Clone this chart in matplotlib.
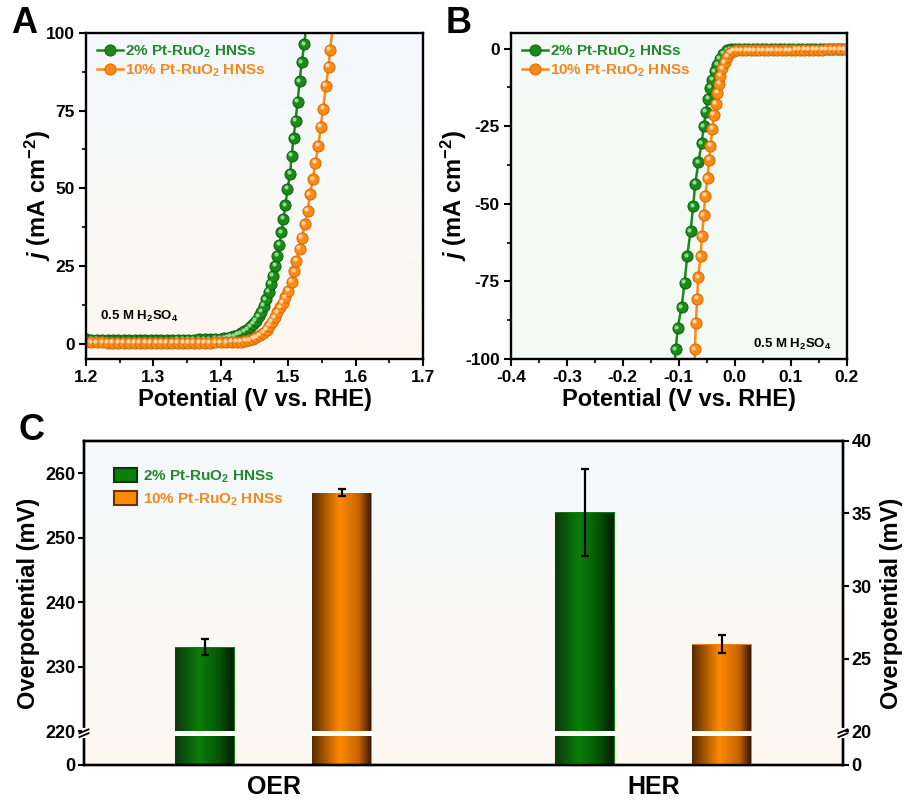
import numpy as np
import matplotlib
matplotlib.use("Agg")
import matplotlib.pyplot as plt
from matplotlib.colors import LinearSegmentedColormap
from matplotlib.transforms import offset_copy
from matplotlib.patches import Patch
from matplotlib.ticker import MultipleLocator, FormatStrFormatter

plt.rcParams['font.family'] = ['Liberation Sans', 'DejaVu Sans']
plt.rcParams['font.weight'] = 'bold'
plt.rcParams['axes.labelweight'] = 'bold'
plt.rcParams['axes.unicode_minus'] = False
plt.rcParams['mathtext.fontset'] = 'custom'
plt.rcParams['mathtext.rm'] = 'Liberation Sans:bold'
plt.rcParams['mathtext.it'] = 'Liberation Sans:italic:bold'
plt.rcParams['mathtext.bf'] = 'Liberation Sans:bold'

# ---- data -------------------------------------------------------------
labels = ['2% Pt-RuO$_2$ HNSs', '10% Pt-RuO$_2$ HNSs']

# panel A: OER polarisation curves
ga_x = [1.200, 1.208, 1.216, 1.224, 1.232, 1.240, 1.248, 1.256, 1.264, 1.272,
        1.280, 1.288, 1.296, 1.304, 1.312, 1.320, 1.328, 1.336, 1.344, 1.352,
        1.360, 1.368, 1.376, 1.384, 1.392, 1.400,
        1.405, 1.410, 1.415, 1.420, 1.425, 1.430, 1.435, 1.440,
        1.444, 1.448, 1.452, 1.456, 1.460, 1.464,
        1.467, 1.471, 1.474, 1.477, 1.481, 1.484, 1.487, 1.490, 1.493, 1.496,
        1.499, 1.503, 1.505, 1.508, 1.511, 1.514, 1.517, 1.520, 1.524, 1.527]
ga_y = [1.3, 1.2, 1.2, 1.1, 1.1, 1.1, 1.1, 1.1, 1.1, 1.1,
        1.1, 1.1, 1.1, 1.1, 1.1, 1.1, 1.1, 1.2, 1.2, 1.2,
        1.2, 1.3, 1.3, 1.4, 1.5, 1.6,
        1.7, 1.9, 2.1, 2.4, 2.8, 3.3, 3.9, 4.6,
        5.4, 6.3, 7.4, 8.7, 10.2, 12.2,
        14.3, 16.7, 19.2, 21.8, 25.1, 28.3, 31.8, 35.9, 40.1, 44.5,
        49.8, 54.7, 60.5, 66.1, 71.8, 77.9, 84.4, 90.6, 96.4, 103.0]
oa_x = [1.200, 1.208, 1.216, 1.224, 1.232, 1.240, 1.248, 1.256, 1.264, 1.272,
        1.280, 1.288, 1.296, 1.304, 1.312, 1.320, 1.328, 1.336, 1.344, 1.352,
        1.360, 1.368, 1.376, 1.384, 1.392, 1.400, 1.408, 1.416, 1.424,
        1.430, 1.436, 1.442, 1.448, 1.453, 1.458, 1.463, 1.468, 1.472, 1.476,
        1.480, 1.484, 1.488, 1.492, 1.496, 1.500, 1.505, 1.509, 1.512, 1.517,
        1.520, 1.525, 1.529, 1.532, 1.537, 1.540, 1.545, 1.548, 1.552, 1.556,
        1.560, 1.562, 1.567]
oa_y = [0.5, 0.4, 0.4, 0.4, 0.3, 0.3, 0.3, 0.3, 0.3, 0.3,
        0.3, 0.3, 0.3, 0.3, 0.3, 0.3, 0.3, 0.3, 0.3, 0.3,
        0.3, 0.3, 0.3, 0.3, 0.4, 0.4, 0.4, 0.5, 0.5,
        0.6, 0.8, 1.1, 1.5, 2.0, 2.6, 3.4, 4.5, 5.7, 7.0,
        8.4, 10.0, 11.6, 13.2, 14.9, 17.0, 19.9, 23.3, 26.7, 30.5,
        34.1, 38.4, 42.7, 48.0, 52.9, 58.2, 63.6, 69.8, 75.6, 83.0,
        89.2, 94.6, 103.0]

# panel B: HER polarisation curves
gb_x = [-0.1085, -0.1053, -0.1023, -0.0952, -0.0898, -0.0851, -0.0791, -0.0744,
        -0.0708, -0.0649, -0.0595, -0.0554, -0.0518, -0.0477, -0.0435, -0.0399,
        -0.0358, -0.0316, -0.0269, -0.0209, -0.0138, -0.0070,
        0.000, 0.008, 0.016, 0.024, 0.032, 0.040, 0.048, 0.056, 0.064, 0.072,
        0.080, 0.088, 0.096, 0.104, 0.112, 0.120, 0.128, 0.136, 0.144, 0.152,
        0.160, 0.168, 0.176, 0.184, 0.192, 0.200]
gb_y = [-103.0, -96.9, -90.1, -83.3, -75.5, -66.9, -58.8, -50.8,
        -43.6, -36.6, -30.5, -25.1, -20.3, -16.2, -12.7, -10.0,
        -7.3, -5.2, -3.3, -1.7, -0.6, -0.3,
        -0.2, -0.2, -0.2, -0.2, -0.2, -0.2, -0.2, -0.2, -0.2, -0.2,
        -0.2, -0.2, -0.2, -0.2, -0.2, -0.2, -0.2, -0.2, -0.2, -0.2,
        -0.2, -0.2, -0.2, -0.2, -0.2, -0.2]
ob_x = [-0.0722, -0.0714, -0.0696, -0.0673, -0.0655, -0.0613, -0.0589, -0.0554,
        -0.0530, -0.0488, -0.0459, -0.0435, -0.0399, -0.0375, -0.0340, -0.0310,
        -0.0280, -0.0257, -0.0221, -0.0180, -0.0138, -0.0078, -0.0020,
        0.004, 0.012, 0.020, 0.028, 0.036, 0.044, 0.052, 0.060, 0.068, 0.076,
        0.084, 0.092, 0.100, 0.108, 0.116, 0.124, 0.132, 0.140, 0.148, 0.156,
        0.164, 0.172, 0.180, 0.188, 0.196]
ob_y = [-103.5, -96.8, -88.4, -80.6, -73.6, -66.9, -60.5, -53.7,
        -47.5, -41.8, -35.9, -31.3, -25.9, -21.3, -17.8, -14.3,
        -11.3, -8.7, -6.3, -4.4, -2.7, -1.4, -0.8,
        -0.6, -0.6, -0.6, -0.6, -0.6, -0.5, -0.5, -0.5, -0.5, -0.5,
        -0.5, -0.5, -0.5, -0.4, -0.4, -0.4, -0.4, -0.4, -0.4, -0.4,
        -0.3, -0.3, -0.3, -0.3, -0.3]

# panel C: overpotentials
groups = ['OER', 'HER']
oer_vals = [233.0, 257.0]
oer_err = [1.2, 0.6]
her_vals = [35.1, 26.0]
her_err = [3.0, 0.65]

green = '#1b8a1b'
green_edge = '#0d5e0d'
green_light = '#8fdc8f'
orange = '#ff8a12'
orange_edge = '#d0680a'
orange_light = '#ffd6a6'
green_txt = '#22892a'
orange_txt = '#f5871f'

fig = plt.figure(figsize=(9.09, 8.05), dpi=100)


def gradient_bg(ax, top, bottom):
    cmap = LinearSegmentedColormap.from_list('bg', [top, bottom])
    ax.imshow(np.linspace(0, 1, 256).reshape(-1, 1), cmap=cmap, aspect='auto',
              extent=[0, 1, 0, 1], transform=ax.transAxes, zorder=0)


def style_axes(ax):
    for s in ax.spines.values():
        s.set_linewidth(1.7)
        s.set_zorder(5)
    ax.tick_params(which='major', direction='out', length=5, width=1.5,
                   labelsize=12.5, pad=3)
    ax.tick_params(which='minor', direction='out', length=3, width=1.2)


def lsv(ax, x, y, col, edge, light, lab):
    line, = ax.plot(x, y, '-o', color=col, lw=1.8, ms=8, mfc=col, mec=edge,
                    mew=0.7, label=lab, zorder=3)
    tr = offset_copy(ax.transData, fig=fig, x=-1.1, y=1.1, units='points')
    ax.plot(x, y, 'o', ms=3.0, color=light, mec='none', transform=tr, zorder=3)
    return line


# ---- panel A ------------------------------------------------------------
axA = fig.add_axes([0.0946, 0.554, 0.3707, 0.405])
gradient_bg(axA, '#f4f8fd', '#fdf8f0')
lsv(axA, ga_x, ga_y, green, green_edge, green_light, labels[0])
lsv(axA, oa_x, oa_y, orange, orange_edge, orange_light, labels[1])
axA.set_xlim(1.2, 1.7)
axA.set_ylim(-5, 100)
axA.xaxis.set_major_locator(MultipleLocator(0.1))
axA.xaxis.set_minor_locator(MultipleLocator(0.05))
axA.xaxis.set_major_formatter(FormatStrFormatter('%.1f'))
axA.yaxis.set_major_locator(MultipleLocator(25))
axA.yaxis.set_minor_locator(MultipleLocator(12.5))
style_axes(axA)
axA.set_xlabel('Potential (V vs. RHE)', fontsize=17, labelpad=2)
axA.set_ylabel(r'$j$ (mA cm$^{\mathrm{-2}}$)', fontsize=17, labelpad=-5)
axA.legend(loc='upper left', frameon=False, handlelength=1.7, handletextpad=0.15,
           borderaxespad=0.3, labelspacing=0.15, prop=dict(size=11, weight='bold'),
           labelcolor=[green_txt, orange_txt])
axA.text(0.042, 0.13, '0.5 M H$_2$SO$_4$', transform=axA.transAxes, fontsize=9.5,
         va='center', ha='left', zorder=6)

# ---- panel B ------------------------------------------------------------
axB = fig.add_axes([0.562, 0.554, 0.3696, 0.405])
gradient_bg(axB, '#f5fbf8', '#f3faf3')
lsv(axB, gb_x, gb_y, green, green_edge, green_light, labels[0])
lsv(axB, ob_x, ob_y, orange, orange_edge, orange_light, labels[1])
axB.set_xlim(-0.4, 0.2)
axB.set_ylim(-100, 5)
axB.xaxis.set_major_locator(MultipleLocator(0.1))
axB.xaxis.set_minor_locator(MultipleLocator(0.05))
axB.xaxis.set_major_formatter(FormatStrFormatter('%.1f'))
axB.yaxis.set_major_locator(MultipleLocator(25))
axB.yaxis.set_minor_locator(MultipleLocator(12.5))
style_axes(axB)
axB.set_xlabel('Potential (V vs. RHE)', fontsize=17, labelpad=2)
axB.set_ylabel(r'$j$ (mA cm$^{\mathrm{-2}}$)', fontsize=17, labelpad=-3)
axB.legend(loc='upper left', frameon=False, handlelength=1.7, handletextpad=0.15,
           borderaxespad=0.3, labelspacing=0.15, prop=dict(size=11, weight='bold'),
           labelcolor=[green_txt, orange_txt])
axB.text(0.72, 0.045, '0.5 M H$_2$SO$_4$', transform=axB.transAxes, fontsize=9.5,
         va='center', ha='left', zorder=6)

# ---- panel C ------------------------------------------------------------
KL = 5.27   # height of the compressed 0-220 segment (left axis units)
KR = 2.34   # height of the compressed 0-20 segment (right axis units)


def fwd_l(v):
    v = np.asarray(v, float)
    return np.where(v <= 220, v * KL / 220, KL + (v - 220))


def inv_l(u):
    u = np.asarray(u, float)
    return np.where(u <= KL, u * 220 / KL, 220 + (u - KL))


def fwd_r(v):
    v = np.asarray(v, float)
    return np.where(v <= 20, v * KR / 20, KR + (v - 20))


def inv_r(u):
    u = np.asarray(u, float)
    return np.where(u <= KR, u * 20 / KR, 20 + (u - KR))


axC = fig.add_axes([0.0924, 0.0497, 0.835, 0.4025])
axC2 = axC.twinx()
gradient_bg(axC, '#f5fafd', '#fdf8f1')
axC.set_yscale('function', functions=(fwd_l, inv_l))
axC2.set_yscale('function', functions=(fwd_r, inv_r))

cm_green = LinearSegmentedColormap.from_list(
    'g', [(0, '#0b3a0b'), (0.4, '#0a7f0a'), (0.75, '#055205'), (1, '#001400')])
cm_orange = LinearSegmentedColormap.from_list(
    'o', [(0, '#5c2c00'), (0.45, '#ff8a00'), (0.78, '#c56200'), (1, '#2a1000')])
bar_cmaps = [cm_green, cm_orange]

off = 0.18
bw = 0.158
gidx = np.arange(len(groups))
xs_green = gidx - off
xs_orange = gidx + off


def grad_bars(ax, xs, vals, err, brk_lo, brk_hi):
    for x, v, cm in zip(xs, vals, bar_cmaps):
        bar = ax.bar([x], [v], width=bw, color=cm(0.4), zorder=2).patches[0]
        im = ax.imshow(np.linspace(0, 1, 128).reshape(1, -1), cmap=cm,
                       aspect='auto', extent=[x - bw / 2, x + bw / 2, 0, v],
                       zorder=3, interpolation='bilinear')
        im.set_clip_path(bar)
    ax.bar(xs, brk_hi - brk_lo, bottom=brk_lo, width=bw * 1.02, color='white',
           zorder=4)
    ax.errorbar(xs, vals, yerr=err, fmt='none', ecolor='black', elinewidth=1.6,
                capsize=3, capthick=1.6, zorder=6)


# OER on the left axis, HER on the right axis
grad_bars(axC, [xs_green[0], xs_orange[0]], oer_vals, oer_err, 187, 219.5)
grad_bars(axC2, [xs_green[1], xs_orange[1]], her_vals, her_err, 17.0, 19.95)

axC.set_xlim(-0.5, 1.5)
axC.set_ylim(0, 265)
axC2.set_ylim(0, 40)
axC.set_yticks([0, 220, 230, 240, 250, 260])
axC2.set_yticks([0, 20, 25, 30, 35, 40])
axC.set_xticks(gidx)
axC.set_xticklabels(groups, fontsize=18)
axC.tick_params(axis='x', length=0, pad=7)
for ax in (axC, axC2):
    for s in ax.spines.values():
        s.set_linewidth(1.7)
        s.set_zorder(5)
    ax.tick_params(axis='y', direction='out', length=4, width=1.5, labelsize=13,
                   pad=2)
axC.set_ylabel('Overpotential (mV)', fontsize=17, labelpad=4)
axC2.set_ylabel('Overpotential (mV)', fontsize=17, labelpad=6)

# axis-break marks on both vertical spines
yb = 0.101
for xb in (0, 1):
    axC2.plot([xb, xb], [yb - 0.012, yb + 0.006], color='white', lw=3,
              transform=axC2.transAxes, clip_on=False, zorder=7)
    for dy in (-0.009, 0.003):
        axC2.plot([xb - 0.006, xb + 0.006], [yb + dy - 0.006, yb + dy + 0.006],
                  color='black', lw=1.3, transform=axC2.transAxes,
                  clip_on=False, zorder=8)

handles = [Patch(facecolor=cm_green(0.4), edgecolor='#063806', lw=1.5),
           Patch(facecolor=cm_orange(0.45), edgecolor='#6a3300', lw=1.5)]
axC2.legend(handles, labels, loc='upper left', bbox_to_anchor=(0.022, 0.96),
            frameon=False, handlelength=1.5, handleheight=1.1, handletextpad=0.35,
            labelspacing=0.4, prop=dict(size=11, weight='bold'),
            labelcolor=[green_txt, orange_txt])

# panel letters
fig.text(0.012, 0.992, 'A', fontsize=26, va='top', ha='left')
fig.text(0.490, 0.992, 'B', fontsize=26, va='top', ha='left')
fig.text(0.020, 0.487, 'C', fontsize=26, va='top', ha='left')

fig.savefig('out.png', dpi=100)
